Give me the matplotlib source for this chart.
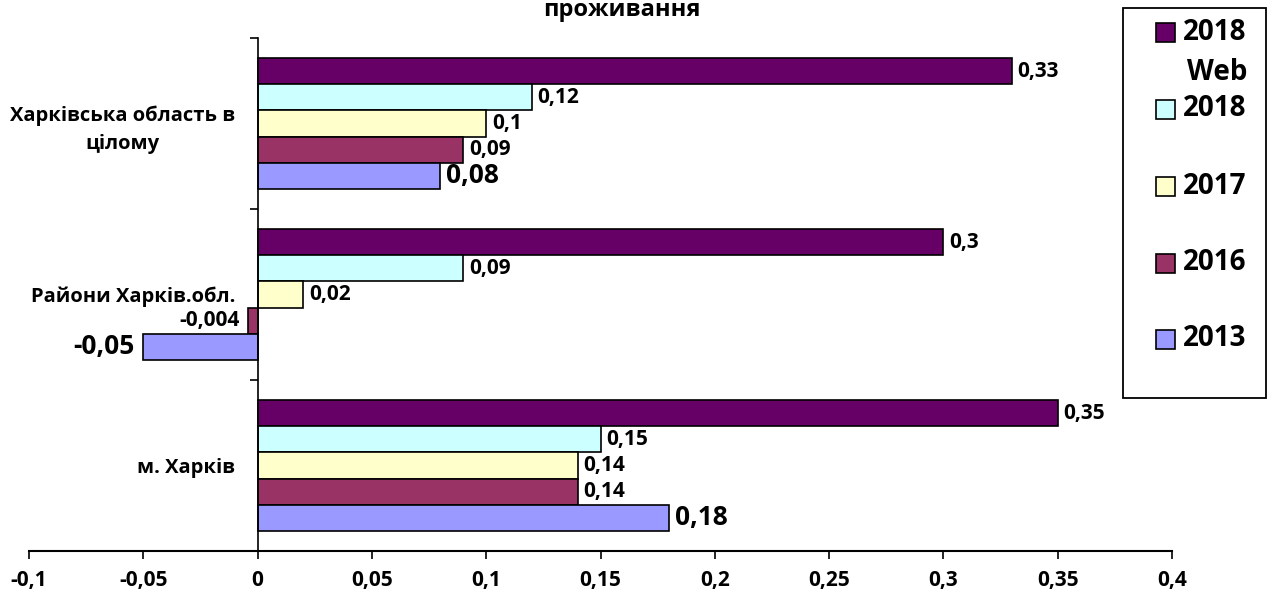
import matplotlib
matplotlib.use("Agg")
import matplotlib.pyplot as plt
from matplotlib.patches import Rectangle
from matplotlib.ticker import FuncFormatter, FixedLocator

plt.rcParams['font.family'] = ['Open Sans', 'DejaVu Sans']
plt.rcParams['font.weight'] = 'bold'

categories = ['м. Харків', 'Райони Харків.обл.', 'Харківська область в\nцілому']
series_names = ['2018\nWeb', '2018', '2017', '2016', '2013']
v_2018web = [0.35, 0.30, 0.33]
v_2018 = [0.15, 0.09, 0.12]
v_2017 = [0.14, 0.02, 0.10]
v_2016 = [0.14, -0.004, 0.09]
v_2013 = [0.18, -0.05, 0.08]
xticks = [-0.1, -0.05, 0, 0.05, 0.1, 0.15, 0.2, 0.25, 0.3, 0.35, 0.4]

series = [v_2018web, v_2018, v_2017, v_2016, v_2013]
colors = ['#660066', '#CCFFFF', '#FFFFCC', '#993366', '#9999FF']
offsets = [2, 1, 0, -1, -2]
label_sizes = [15, 15, 15, 15, 19]

W, H = 1268, 597

def fmt(v):
    return ('{:g}'.format(v)).replace('.', ',')

def fx(px):
    return px / W

def fy(py):
    return 1 - py / H

fig = plt.figure(figsize=(W/100, H/100), dpi=100)
ax = fig.add_axes([fx(29), 46/H, (1172-29)/W, (551-38)/H])

h = 0.153
for vals, col, off, ls in zip(series, colors, offsets, label_sizes):
    ys = [i + off*h for i in range(len(categories))]
    bars = ax.barh(ys, vals, height=h, color=col, edgecolor='black', linewidth=1.2)
    for b, v in zip(bars, vals):
        y = b.get_y() + b.get_height()/2
        if v >= 0:
            ax.annotate(fmt(v), (v, y), xytext=(4, 0), textcoords='offset points',
                        ha='left', va='center', fontsize=ls, fontweight='bold')
        else:
            ax.annotate(fmt(v), (v, y), xytext=(-6, 0), textcoords='offset points',
                        ha='right', va='center', fontsize=ls, fontweight='bold')

ax.set_xlim(-0.1, 0.4)
ax.set_ylim(-0.5, 2.5)
ax.set_xticks(xticks)
ax.xaxis.set_major_formatter(FuncFormatter(lambda v, p: fmt(round(v, 3))))
ax.tick_params(axis='x', direction='out', length=6, width=1.2, pad=8, labelsize=15)
for t in ax.get_xticklabels():
    t.set_fontweight('bold')

ax.spines['top'].set_visible(False)
ax.spines['right'].set_visible(False)
ax.spines['left'].set_position(('data', 0))
ax.spines['left'].set_linewidth(1.2)
ax.spines['bottom'].set_linewidth(1.5)

ax.yaxis.set_major_locator(FixedLocator([0, 1, 2]))
ax.set_yticklabels(categories)
ax.yaxis.set_minor_locator(FixedLocator([-0.5, 0.5, 1.5, 2.5]))
ax.tick_params(axis='y', which='major', length=0, pad=16, labelsize=14.5)
ax.tick_params(axis='y', which='minor', length=6, width=1.2, direction='out')
for t in ax.get_yticklabels():
    t.set_fontweight('bold')
    t.set_multialignment('center')
    t.set_linespacing(1.5)

fig.text(fx(622), fy(16), 'проживання', ha='center', va='baseline',
         fontsize=17, fontweight='bold')

# legend drawn as figure artists
fig.add_artist(Rectangle((fx(1123), fy(398)), fx(1266) - fx(1123), fy(8) - fy(398),
                         transform=fig.transFigure, facecolor='white',
                         edgecolor='black', linewidth=1.3))
legend_y = [32, 109, 186, 263, 339]
for name, col, yc in zip(series_names, colors, legend_y):
    s = 19
    fig.add_artist(Rectangle((fx(1156), fy(yc + s/2)), s/W, s/H,
                             transform=fig.transFigure, facecolor=col,
                             edgecolor='black', linewidth=1.2))
    lines = name.split('\n')
    fig.text(fx(1183), fy(yc), lines[0], ha='left', va='center',
             fontsize=20, fontweight='bold')
    if len(lines) > 1:
        fig.text(fx(1217), fy(yc + 41), lines[1], ha='center', va='center',
                 fontsize=20, fontweight='bold')

fig.savefig('out.png', dpi=100)
